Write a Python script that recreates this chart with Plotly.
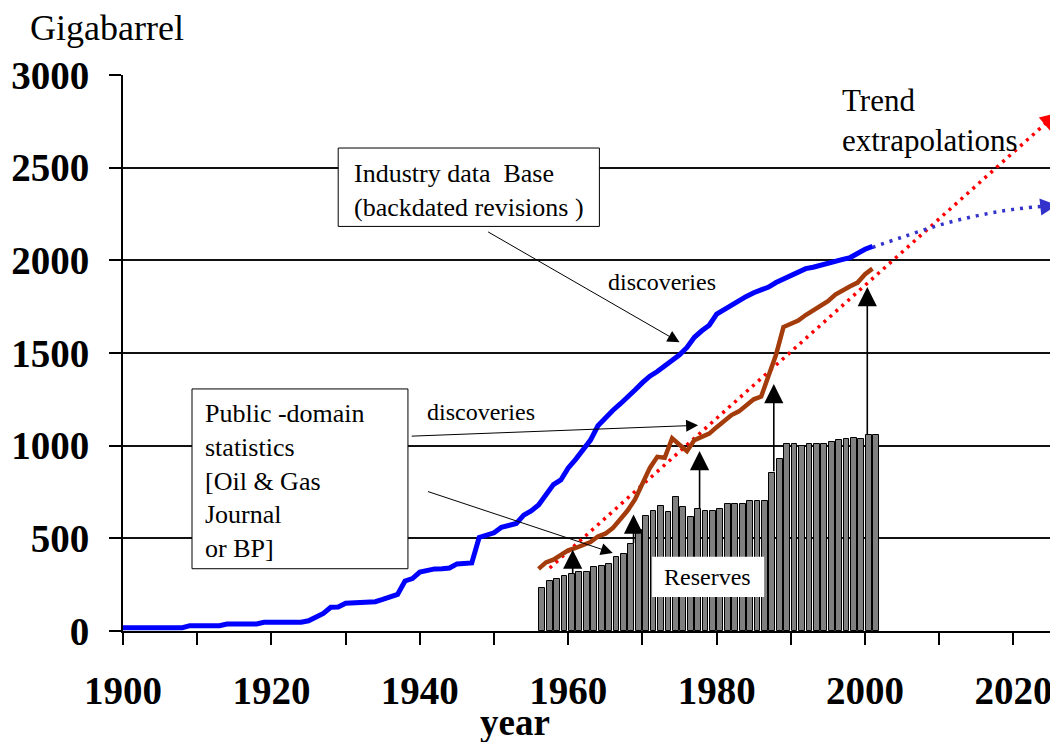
import plotly.graph_objects as go

# Industry data base (backdated revisions) - cumulative discoveries, Gb
blue_years = list(range(1900, 2002))
blue_values = [
    18, 18, 18, 18, 18, 18, 18, 18, 18, 29,
    29, 29, 29, 29, 38, 38, 38, 38, 38, 47,
    47, 47, 47, 47, 47, 55, 72, 95, 128, 130,
    150, 152, 152, 155, 158, 170, 185, 197, 270, 283,
    318, 330, 335, 336, 340, 362, 363, 367, 505, 520,
    530, 560, 570, 580, 625, 648, 680, 740, 790, 815,
    880, 926, 980, 1030, 1107, 1150, 1190, 1225, 1260, 1300,
    1340, 1375, 1400, 1430, 1460, 1490, 1530, 1585, 1620, 1650,
    1710, 1735, 1760, 1785, 1805, 1825, 1840, 1856, 1880, 1900,
    1920, 1940, 1955, 1963, 1975, 1985, 1995, 2005, 2015, 2040,
    2060, 2075,
]

# Public-domain statistics - cumulative discoveries, Gb
brown_years = list(range(1956, 2002))
brown_values = [
    335, 370, 385, 410, 435, 448, 462, 480, 510, 525,
    555, 600, 650, 710, 800, 880, 940, 935, 1040, 1005,
    970, 1030, 1045, 1065, 1100, 1135, 1165, 1185, 1220, 1250,
    1265, 1380, 1490, 1640, 1655, 1675, 1705, 1730, 1750, 1780,
    1815, 1840, 1860, 1880, 1925, 1955,
]

# Public-domain reserves, Gb
reserve_years = list(range(1956, 2002))
reserve_values = [
    231, 271, 280, 298, 307, 316, 316, 343, 352, 361,
    399, 417, 470, 545, 623, 650, 677, 641, 722, 668,
    614, 659, 650, 650, 659, 686, 686, 686, 704, 704,
    704, 854, 926, 1011, 1011, 998, 1011, 1011, 1011, 1020,
    1029, 1038, 1044, 1038, 1056, 1056,
]

# trend extrapolations
blue_trend_years = [2001, 2005, 2010, 2015, 2020, 2025.9]
blue_trend_values = [2070, 2125, 2190, 2240, 2275, 2298]
red_trend_years = [1957.5, 2025.9]
red_trend_values = [340, 2795]

# vertical arrows reserves -> discoveries
arrow_years = [1960.6, 1968.8, 1977.7, 1987.7, 2000.3]
arrow_from = [303, 466, 655, 854, 1053]
arrow_to = [439, 628, 971, 1333, 1856]

x_ticks = list(range(1900, 2021, 10))
x_labels = [str(t) if t % 20 == 0 else "" for t in x_ticks]
y_ticks = [0, 500, 1000, 1500, 2000, 2500, 3000]

SERIF = "Liberation Serif, Times New Roman, serif"

fig = go.Figure()

fig.add_trace(go.Bar(
    x=reserve_years, y=reserve_values,
    width=0.78, offset=0.11,
    marker=dict(color="#808080", line=dict(color="black", width=1)),
))
fig.add_trace(go.Scatter(
    x=red_trend_years, y=red_trend_values, mode="lines",
    line=dict(color="#ff0000", width=3.5, dash="3px,5px"),
))
fig.add_trace(go.Scatter(
    x=blue_trend_years, y=blue_trend_values, mode="lines",
    line=dict(color="#3333cc", width=3.5, dash="3px,6px", shape="spline"),
))
fig.add_trace(go.Scatter(
    x=blue_years, y=blue_values, mode="lines",
    line=dict(color="#0000ff", width=5),
))
fig.add_trace(go.Scatter(
    x=brown_years, y=brown_values, mode="lines",
    line=dict(color="#a33c0a", width=4.5),
))

# boxes
box_line = dict(color="black", width=1)
fig.add_shape(type="rect", x0=1909.3, x1=1938.4, y0=336, y1=1306,
              fillcolor="white", line=box_line, layer="above")
fig.add_shape(type="rect", x0=1929.0, x1=1964.2, y0=2183, y1=2606,
              fillcolor="white", line=box_line, layer="above")
fig.add_shape(type="rect", x0=1971.3, x1=1986.4, y0=184, y1=401,
              fillcolor="white", line=dict(width=0), layer="above")

ann = []
txt = dict(family=SERIF, size=26, color="black")
small = dict(family=SERIF, size=24, color="black")

ann.append(dict(x=1910.8, y=1262, xref="x", yref="y", xanchor="left", yanchor="top",
                align="left", showarrow=False, font=txt,
                text="Public -domain<br>statistics<br>[Oil & Gas<br>Journal<br>or BP]"))
ann.append(dict(x=1930.9, y=2560, xref="x", yref="y", xanchor="left", yanchor="top",
                align="left", showarrow=False, font=txt,
                text="Industry data  Base<br>(backdated revisions )"))
ann.append(dict(x=1996.6, y=2965, xref="x", yref="y", xanchor="left", yanchor="top",
                align="left", showarrow=False, font=dict(family=SERIF, size=31, color="black"),
                text="Trend<br>extrapolations"))
ann.append(dict(x=1972.7, y=1885, xref="x", yref="y", showarrow=False, font=small,
                text="discoveries"))
ann.append(dict(x=1948.2, y=1181, xref="x", yref="y", showarrow=False, font=small,
                text="discoveries"))
ann.append(dict(x=1978.8, y=290, xref="x", yref="y", showarrow=False, font=small,
                text="Reserves"))

# thin pointer arrows
thin = dict(showarrow=True, arrowhead=2, arrowsize=2.4, arrowwidth=1, arrowcolor="black",
            text="", xref="x", yref="y", axref="x", ayref="y")
ann.append(dict(x=1975.0, y=1558, ax=1949.0, ay=2158, **thin))
ann.append(dict(x=1977.5, y=1110, ax=1938.7, ay=1051, **thin))
ann.append(dict(x=1966.0, y=421, ax=1940.9, ay=755, **thin))

# thick vertical arrows
for xa, y0, y1 in zip(arrow_years, arrow_from, arrow_to):
    ann.append(dict(x=xa, y=y1, ax=xa, ay=y0, xref="x", yref="y", axref="x", ayref="y",
                    text="", showarrow=True, arrowhead=2, arrowsize=2.4,
                    arrowwidth=1.6, arrowcolor="black"))

# arrow heads at the end of the extrapolations
ann.append(dict(x=red_trend_years[-1], y=red_trend_values[-1], xref="x", yref="y",
                ax=-14, ay=12, text="", showarrow=True, arrowhead=2, arrowsize=1.7,
                arrowwidth=2, arrowcolor="#ff0000"))
ann.append(dict(x=blue_trend_years[-1], y=blue_trend_values[-1], xref="x", yref="y",
                ax=-18, ay=2, text="", showarrow=True, arrowhead=2, arrowsize=1.7,
                arrowwidth=2, arrowcolor="#3333cc"))

ann.append(dict(x=-0.1016, y=1.0845, xref="paper", yref="paper", xanchor="left",
                yanchor="middle", showarrow=False, text="Gigabarrel",
                font=dict(family=SERIF, size=36, color="black")))
ann.append(dict(x=0.419, y=-0.164, xref="paper", yref="paper", showarrow=False,
                xanchor="center", yanchor="middle",
                text="year", font=dict(family=SERIF, size=37, color="black", weight="bold")))

# the page body adds an 8px margin, so the figure is 8px smaller and shifted
fig.update_layout(
    width=1050, height=734,
    margin=dict(l=115, r=0, t=67, b=111),
    paper_bgcolor="white", plot_bgcolor="white",
    showlegend=False,
    annotations=ann,
    bargap=0,
)
fig.update_xaxes(
    range=[1900, 2026], tickvals=x_ticks, ticktext=x_labels,
    ticks="outside", ticklen=12, tickwidth=2, tickcolor="black",
    showline=True, linecolor="black", linewidth=2, showgrid=False, zeroline=False,
    tickfont=dict(family=SERIF, size=39, color="black", weight="bold"),
    ticklabelstandoff=12, automargin=False,
)
fig.update_yaxes(
    range=[0, 3000], tickvals=y_ticks,
    ticks="outside", ticklen=12, tickwidth=2, tickcolor="black",
    showline=True, linecolor="black", linewidth=2,
    showgrid=True, gridcolor="#111111", gridwidth=2, zeroline=False,
    tickfont=dict(family=SERIF, size=39, color="black", weight="bold"),
    ticklabelstandoff=12, automargin=False,
)

fig.write_html("out.html")
